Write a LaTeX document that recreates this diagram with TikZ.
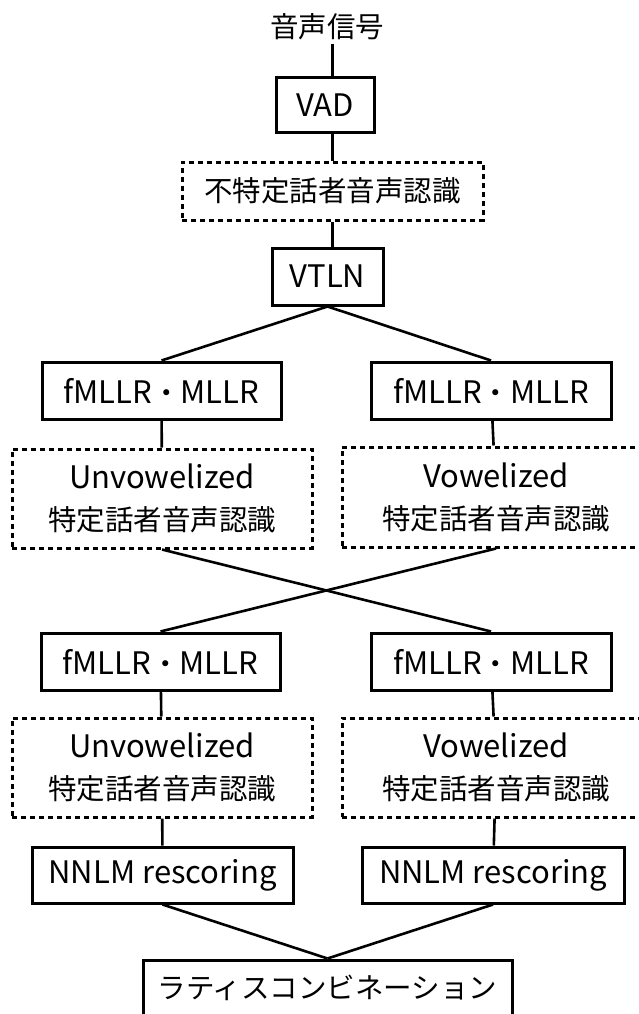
\documentclass[tikz,border=0pt]{standalone}
\usepackage{fontspec}
\setmainfont{Noto Sans CJK JP}
\newcommand\J[1]{{\fontsize{28.5}{42}\selectfont #1}}
\begin{document}
\begin{tikzpicture}[x=1pt,y=-1pt,
  every node/.style={font=\fontsize{31}{42}\selectfont},
  solidbox/.style={draw=black, line width=3pt, minimum width=#1, minimum height=57pt, inner sep=0pt, align=center},
  dashbox/.style={draw=black, line width=3pt, dash pattern=on 5pt off 4pt, minimum width=#1, inner sep=0pt, align=center},
  conn/.style={draw=black, line width=2.6pt}]
\useasboundingbox (0,0) rectangle (638,1014);
\node (sig) at (327,27) {\J{音声信号}};
\node[solidbox=98pt, minimum height=55pt] (vad) at (325,105.5) {VAD};
\node[dashbox=301pt, minimum height=58pt] (si) at (332.5,191) {\J{不特定話者音声認識}};
\node[solidbox=111pt] (vtln) at (327.5,276.5) {VTLN};
\node[solidbox=239pt] (f1l) at (161.5,390.5) {fMLLR\J{・}MLLR};
\node[solidbox=240pt] (f1r) at (491,390.5) {fMLLR\J{・}MLLR};
\node[dashbox=300pt, minimum height=99pt] (d1l) at (162,498.5) {Unvowelized\\\J{特定話者音声認識}};
\node[dashbox=308pt, minimum height=100pt] (d1r) at (496,497) {Vowelized\\\J{特定話者音声認識}};
\node[solidbox=239pt] (f2l) at (160.5,661.5) {fMLLR\J{・}MLLR};
\node[solidbox=240pt] (f2r) at (491,661.5) {fMLLR\J{・}MLLR};
\node[dashbox=300pt, minimum height=99pt] (d2l) at (162,767.5) {Unvowelized\\\J{特定話者音声認識}};
\node[dashbox=308pt, minimum height=99pt] (d2r) at (496,767.5) {Vowelized\\\J{特定話者音声認識}};
\node[solidbox=261pt, minimum height=56pt] (nl) at (162.5,875) {NNLM rescoring};
\node[solidbox=262pt, minimum height=56pt] (nr) at (493,875) {NNLM rescoring};
\node[solidbox=369pt, minimum height=56pt] (lat) at (327.5,988) {\J{ラティスコンビネーション}};
\draw[conn] (sig.south -| si.north) -- (vad.north -| si.north);
\draw[conn] (vad.south -| si.north) -- (si.north);
\draw[conn] (si.south) -- (vtln.north -| si.south);
\draw[conn] (vtln.south) -- (f1l.north);
\draw[conn] (vtln.south) -- (f1r.north);
\draw[conn] (f1l) -- (d1l);
\draw[conn] (f1r) -- (d1r);
\draw[conn] (d1l.south) -- (f2r.north);
\draw[conn] (d1r.south) -- (f2l.north);
\draw[conn] (f2l) -- (d2l);
\draw[conn] (f2r) -- (d2r);
\draw[conn] (d2l) -- (nl);
\draw[conn] (d2r) -- (nr);
\draw[conn] (nl.south) -- (lat.north);
\draw[conn] (nr.south) -- (lat.north);
\end{tikzpicture}
\end{document}
